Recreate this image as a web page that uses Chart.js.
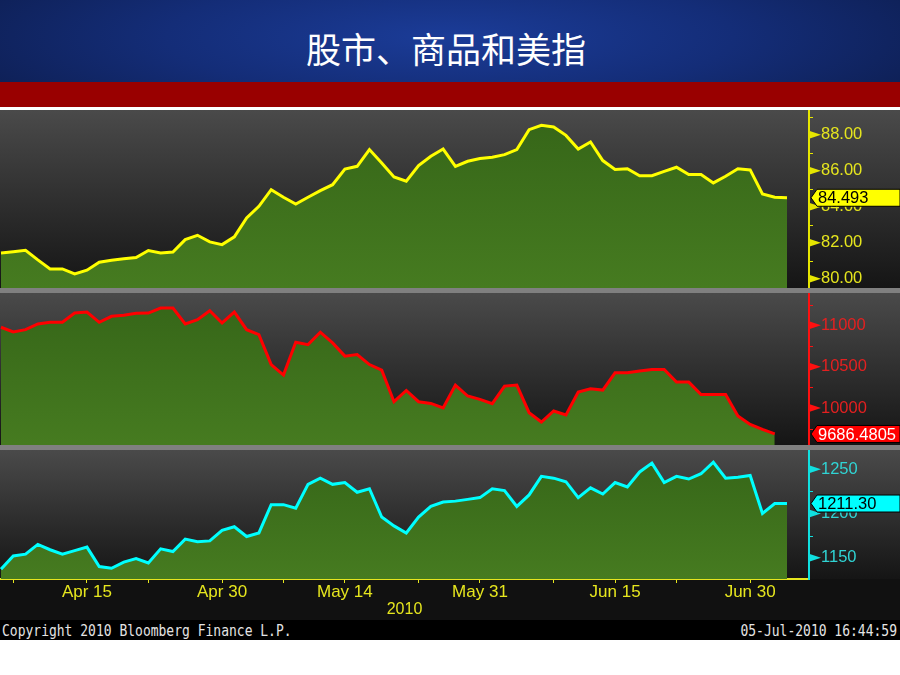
<!DOCTYPE html>
<html>
<head>
<meta charset="utf-8">
<script src="https://cdn.jsdelivr.net/npm/chart.js@4.4.0/dist/chart.umd.min.js"></script>
<style>
  html, body { margin: 0; padding: 0; background: #fff; }
  body { width: 900px; height: 675px; position: relative; overflow: hidden; }
  .blk { position: absolute; left: 0; width: 900px; }
  #header { top: 0; height: 82px; background: radial-gradient(ellipse 70% 160% at 50% 45%, #1b3c98 0%, #142d78 45%, #0b1944 100%); }
  #title { position: absolute; left: 0; top: 30px; width: 892px; text-align: center; color: #fff;
           font: 35px/35px "Noto Sans CJK SC", sans-serif; }
  #band { top: 82px; height: 25px; background: #990000; }
  .sep { height: 5px; background: #808080; }
  canvas { position: absolute; left: 0; display: block; }
  #footer { top: 620px; height: 20px; background: #000; color: #e4e4e4;
            font: 13px "DejaVu Sans Mono", monospace; }
  #footer span { position: absolute; top: 3px; transform: scaleY(1.2); transform-origin: 50% 50%; white-space: pre; }
</style>
</head>
<body>
<div id="header" class="blk"><div id="title">股市、商品和美指</div></div>
<div id="band" class="blk"></div>
<canvas id="c1" width="900" height="178" style="top:110px"></canvas>
<div class="blk sep" style="top:288px"></div>
<canvas id="c2" width="900" height="152" style="top:293px"></canvas>
<div class="blk sep" style="top:445px"></div>
<canvas id="c3" width="900" height="170" style="top:450px"></canvas>
<div id="footer" class="blk">
  <span style="left:2px">Copyright 2010 Bloomberg Finance L.P.</span>
  <span style="right:3px">05-Jul-2010 16:44:59</span>
</div>

<script>
// weekdays shown on the x axis (Bloomberg keeps holidays)
const dates = [
  'Apr 6', 'Apr 7', 'Apr 8', 'Apr 9', 'Apr 12', 'Apr 13', 'Apr 14', 'Apr 15', 'Apr 16',
  'Apr 19', 'Apr 20', 'Apr 21', 'Apr 22', 'Apr 23', 'Apr 26', 'Apr 27', 'Apr 28', 'Apr 29', 'Apr 30',
  'May 3', 'May 4', 'May 5', 'May 6', 'May 7', 'May 10', 'May 11', 'May 12', 'May 13', 'May 14',
  'May 17', 'May 18', 'May 19', 'May 20', 'May 21', 'May 24', 'May 25', 'May 26', 'May 27', 'May 28',
  'May 31', 'Jun 1', 'Jun 2', 'Jun 3', 'Jun 4', 'Jun 7', 'Jun 8', 'Jun 9', 'Jun 10', 'Jun 11',
  'Jun 14', 'Jun 15', 'Jun 16', 'Jun 17', 'Jun 18', 'Jun 21', 'Jun 22', 'Jun 23', 'Jun 24', 'Jun 25',
  'Jun 28', 'Jun 29', 'Jun 30', 'Jul 1', 'Jul 2', 'Jul 5'
];
const tickDates = ['Apr 7', 'Apr 15', 'Apr 22', 'Apr 30', 'May 7', 'May 14', 'May 24', 'May 31',
                   'Jun 8', 'Jun 15', 'Jun 22', 'Jun 30'];
const labeledDates = ['Apr 15', 'Apr 30', 'May 14', 'May 31', 'Jun 15', 'Jun 30'];
const yearLabel = '2010';

// US dollar index
const dxy = [
  81.43, 81.5, 81.58, 81.04, 80.54, 80.54, 80.26, 80.47, 80.91, 81.02, 81.1, 81.17, 81.56, 81.43,
  81.48, 82.17, 82.41, 82.04, 81.89, 82.32, 83.37, 84.02, 84.94, 84.52, 84.15, 84.52, 84.89, 85.22,
  86.09, 86.24, 87.17, 86.43, 85.65, 85.41, 86.28, 86.8, 87.2, 86.24, 86.52, 86.67, 86.74, 86.89,
  87.17, 88.28, 88.52, 88.43, 87.96, 87.2, 87.59, 86.56, 86.06, 86.11, 85.72, 85.72, 85.96, 86.19,
  85.78, 85.78, 85.32, 85.69, 86.11, 86.04, 84.71, 84.52, 84.493
];
const dxyMajor = [80, 82, 84, 86, 88];
const dxyMinor = [81, 83, 85, 87, 89];

// Dow Jones industrial average
const djia = [
  10976, 10919, 10947, 11016, 11036, 11036, 11148, 11160, 11036, 11108, 11120, 11145, 11148, 11208,
  11208, 11016, 11067, 11176, 11028, 11160, 10947, 10887, 10525, 10398, 10795, 10766, 10916, 10787,
  10627, 10646, 10525, 10458, 10076, 10212, 10076, 10055, 10000, 10277, 10145, 10104, 10052, 10265,
  10277, 9943, 9831, 9964, 9916, 10193, 10233, 10217, 10425, 10425, 10446, 10465, 10465, 10313,
  10313, 10164, 10164, 10164, 9904, 9802, 9742, 9686.4805, null
];
const djiaMajor = [10000, 10500, 11000];
const djiaMinor = [9750, 10250, 10750, 11250];

// gold
const gold = [
  1137, 1152, 1154, 1165, 1159, 1154, 1158, 1162, 1140, 1138, 1145, 1149, 1144, 1160, 1157, 1171,
  1168, 1169, 1181, 1185, 1174, 1178, 1210, 1210, 1206, 1233, 1240, 1233, 1235, 1224, 1228, 1196,
  1186, 1178, 1196, 1208, 1213, 1214, 1216, 1218, 1228, 1226, 1208, 1221, 1242, 1240, 1236, 1218,
  1229, 1222, 1235, 1230, 1247, 1257, 1235, 1242, 1239, 1245, 1258, 1240, 1241, 1243, 1200, 1211.3,
  1211.30
];
const goldMajor = [1150, 1200, 1250];
const goldMinor = [1175, 1225];

const X_MIN = -0.08, X_MAX = 65.79;
const AXIS_W = 91;

const panelBg = {
  id: 'panelBg',
  beforeDraw(chart) {
    const { ctx, chartArea: a, width, height } = chart;
    ctx.save();
    ctx.fillStyle = '#111';
    ctx.fillRect(0, 0, width, height);
    const g = ctx.createLinearGradient(0, a.top, 0, a.bottom);
    g.addColorStop(0, '#4a4a4a');
    g.addColorStop(1, '#151515');
    ctx.fillStyle = g;
    ctx.fillRect(0, a.top, width, a.bottom - a.top);
    ctx.restore();
  }
};

// arrow ticks on the right axis + last value tag
const axisDecor = {
  id: 'axisDecor',
  afterDraw(chart, args, o) {
    const { ctx } = chart;
    const ys = chart.scales.y;
    const x0 = ys.left;
    ctx.save();
    ctx.fillStyle = o.color;
    ctx.strokeStyle = o.color;
    ctx.lineWidth = 1;
    o.major.forEach(v => {
      const py = ys.getPixelForValue(v);
      ctx.beginPath();
      ctx.moveTo(x0, py - 4);
      ctx.lineTo(x0 + 12, py);
      ctx.lineTo(x0, py + 4);
      ctx.closePath();
      ctx.fill();
    });
    o.minor.forEach(v => {
      const py = Math.round(ys.getPixelForValue(v)) + 0.5;
      ctx.beginPath();
      ctx.moveTo(x0, py);
      ctx.lineTo(x0 + 4, py);
      ctx.stroke();
    });
    const data = chart.data.datasets[0].data.filter(p => p.y !== null);
    const last = data[data.length - 1].y;
    const py = ys.getPixelForValue(last);
    ctx.beginPath();
    ctx.moveTo(x0 + 2, py);
    ctx.lineTo(x0 + 8, py - 8.5);
    ctx.lineTo(chart.width, py - 8.5);
    ctx.lineTo(chart.width, py + 8.5);
    ctx.lineTo(x0 + 8, py + 8.5);
    ctx.closePath();
    ctx.fillStyle = o.tagColor;
    ctx.fill();
    ctx.strokeStyle = '#000';
    ctx.stroke();
    ctx.fillStyle = o.tagText;
    ctx.font = '16.5px "Liberation Sans"';
    ctx.textBaseline = 'middle';
    ctx.textAlign = 'left';
    ctx.fillText(last.toFixed(o.decimals), x0 + 9, py + 1);
    ctx.restore();
  }
};

function makePanel(id, values, cfg) {
  const ctx = document.getElementById(id).getContext('2d');
  const points = values.map((v, i) => ({ x: i, y: v }));
  const ticksY = cfg.major.concat(cfg.minor).sort((a, b) => a - b);
  const tickIdx = tickDates.map(d => dates.indexOf(d));
  return new Chart(ctx, {
    type: 'line',
    data: {
      datasets: [{
        data: points,
        borderColor: cfg.line,
        borderWidth: 3,
        pointRadius: 0,
        tension: 0,
        fill: 'start',
        backgroundColor: c => {
          const a = c.chart.chartArea;
          if (!a) return '#3f7320';
          const g = c.chart.ctx.createLinearGradient(0, a.top, 0, a.bottom);
          g.addColorStop(0, '#356518');
          g.addColorStop(1, '#467b20');
          return g;
        }
      }]
    },
    options: {
      responsive: false,
      animation: false,
      layout: { padding: 0 },
      plugins: {
        legend: { display: false },
        tooltip: { enabled: false },
        axisDecor: {
          color: cfg.axis, major: cfg.major, minor: cfg.minor,
          tagColor: cfg.tagColor, tagText: cfg.tagText, decimals: cfg.decimals
        }
      },
      scales: {
        x: {
          type: 'linear',
          min: X_MIN,
          max: X_MAX,
          display: !!cfg.showX,
          afterBuildTicks: s => { s.ticks = tickIdx.map(i => ({ value: i })); },
          afterFit: s => {
            s.height = cfg.showX ? 41 : 0;
            s.paddingLeft = 0; s.paddingRight = 0;
          },
          grid: { display: true, drawOnChartArea: false, drawTicks: true, tickLength: 4, color: '#e6e61e' },
          border: { display: true, color: '#e6e61e', width: 2 },
          ticks: {
            autoSkip: false, maxRotation: 0, padding: -1,
            color: '#e6e61e',
            font: { family: 'Liberation Sans', size: 17 },
            callback: v => labeledDates.includes(dates[v]) ? dates[v] : ''
          },
          title: {
            display: true, text: yearLabel, color: '#e6e61e',
            font: { family: 'Liberation Sans', size: 16 },
            padding: { top: 0, bottom: 1 }
          }
        },
        y: {
          position: 'right',
          min: cfg.min,
          max: cfg.max,
          afterBuildTicks: s => { s.ticks = ticksY.map(v => ({ value: v })); },
          afterFit: s => {
            s.width = AXIS_W;
            s.paddingTop = 0; s.paddingBottom = 0;
          },
          grid: { display: false, drawTicks: false },
          border: { display: true, color: cfg.axis, width: 2 },
          ticks: {
            autoSkip: false,
            padding: 12,
            color: cfg.label,
            font: { family: 'Liberation Sans', size: 16.5 },
            callback: v => cfg.major.includes(v) ? v.toFixed(cfg.labelDecimals) : ''
          }
        }
      }
    },
    plugins: [panelBg, axisDecor]
  });
}

makePanel('c1', dxy, {
  min: 79.48, max: 89.37, major: dxyMajor, minor: dxyMinor, labelDecimals: 2, decimals: 3,
  line: '#ffff00', axis: '#e6e600', label: '#e6e61e', tagColor: '#ffff00', tagText: '#000'
});
makePanel('c2', djia, {
  min: 9553, max: 11390, major: djiaMajor, minor: djiaMinor, labelDecimals: 0, decimals: 4,
  line: '#ff0000', axis: '#ff1010', label: '#e42020', tagColor: '#ff0000', tagText: '#fff'
});
makePanel('c3', gold, {
  min: 1125.9, max: 1271.85, major: goldMajor, minor: goldMinor, labelDecimals: 0, decimals: 2,
  line: '#00ffff', axis: '#10e0e0', label: '#30d4d4', tagColor: '#00ffff', tagText: '#000', showX: true
});
</script>
</body>
</html>
